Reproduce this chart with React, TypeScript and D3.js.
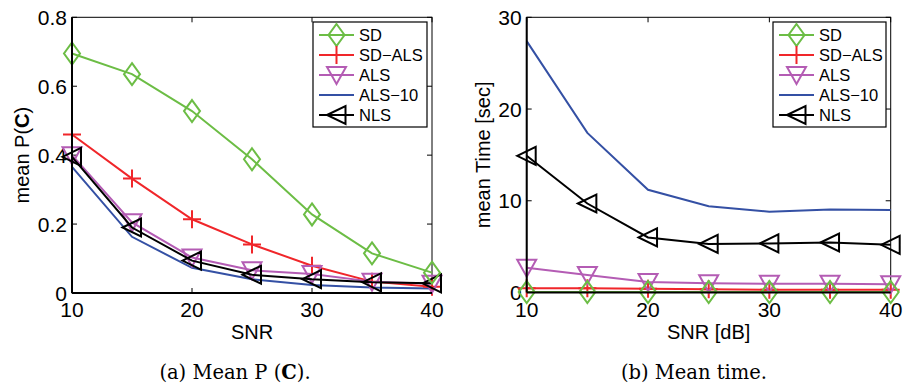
import React from "react";
import * as d3 from "d3";

const snr = [10, 15, 20, 25, 30, 35, 40];
const seriesNames = ["SD", "SD\u2212ALS", "ALS", "ALS\u221210", "NLS"];
const seriesColors = ["#6cbd45", "#f0262a", "#b45cb4", "#3450a4", "#000000"];
const seriesMarkers = ["diamond", "plus", "tridown", "none", "trileft"];

// (a) mean P(C)
const pcSD = [0.695, 0.635, 0.528, 0.388, 0.228, 0.115, 0.059];
const pcSDALS = [0.46, 0.332, 0.214, 0.141, 0.079, 0.033, 0.018];
const pcALS = [0.4, 0.205, 0.103, 0.066, 0.055, 0.033, 0.027];
const pcALS10 = [0.366, 0.163, 0.073, 0.04, 0.023, 0.016, 0.013];
const pcNLS = [0.395, 0.19, 0.094, 0.053, 0.04, 0.031, 0.028];

// (b) mean time
const tSD = [0.05, 0.05, 0.05, 0.05, 0.05, 0.05, 0.05];
const tSDALS = [0.45, 0.45, 0.4, 0.35, 0.3, 0.3, 0.3];
const tALS = [2.7, 1.9, 1.15, 1.0, 0.95, 0.95, 0.9];
const tALS10 = [27.4, 17.4, 11.2, 9.4, 8.8, 9.05, 9.0];
const tNLS = [14.9, 9.7, 6.0, 5.3, 5.35, 5.45, 5.2];

const xTicks = [10, 20, 30, 40];
const yTicksA = [0, 0.2, 0.4, 0.6, 0.8];
const yTicksAL = ["0", "0.2", "0.4", "0.6", "0.8"];
const yTicksB = [0, 10, 20, 30];

function markerPath(kind: string): string {
  switch (kind) {
    case "diamond":
      return "M0,-11L8,0L0,11L-8,0Z";
    case "plus":
      return "M-9,0L9,0M0,-9L0,9";
    case "tridown":
      return "M-9.5,-8L9.5,-8L0,9Z";
    case "trileft":
      return "M-9.5,0L9,-9L9,9Z";
    default:
      return "";
  }
}

type PanelProps = {
  left: number;
  right: number;
  top: number;
  bottom: number;
  yMax: number;
  yTicks: number[];
  yTickLabels: string[];
  data: number[][];
  yLabel: React.ReactNode;
  yLabelX: number;
  xLabel: string;
  caption: React.ReactNode;
  captionX: number;
  legendX: number;
  legendW: number;
};

function Panel(p: PanelProps) {
  const x = d3.scaleLinear().domain([10, 40]).range([p.left, p.right]);
  const y = d3.scaleLinear().domain([0, p.yMax]).range([p.bottom, p.top]);
  const line = d3
    .line<number>()
    .x((_, i) => x(snr[i]))
    .y((v) => y(v));
  const cx = (p.left + p.right) / 2;
  const tick = 5;
  const order = [3, 1, 2, 4, 0];
  return (
    <g>
      <rect x={p.left} y={p.top} width={p.right - p.left} height={p.bottom - p.top} fill="white" stroke="#000" strokeWidth={1} />
      {xTicks.map((t) => (
        <g key={"xt" + t}>
          <line x1={x(t)} x2={x(t)} y1={p.bottom} y2={p.bottom - tick} stroke="#000" />
          <line x1={x(t)} x2={x(t)} y1={p.top} y2={p.top + tick} stroke="#000" />
          <text x={x(t)} y={p.bottom + 24} textAnchor="middle" fontSize={21} fontFamily="Liberation Sans, Arial, sans-serif">
            {t}
          </text>
        </g>
      ))}
      {p.yTicks.map((t, i) => (
        <g key={"yt" + t}>
          <line x1={p.left} x2={p.left + tick} y1={y(t)} y2={y(t)} stroke="#000" />
          <line x1={p.right} x2={p.right - tick} y1={y(t)} y2={y(t)} stroke="#000" />
          <text x={p.left - 5} y={y(t) + 7.5} textAnchor="end" fontSize={21} fontFamily="Liberation Sans, Arial, sans-serif">
            {p.yTickLabels[i]}
          </text>
        </g>
      ))}
      {order.map((si) => (
        <g key={"s" + si}>
          <path d={line(p.data[si]) || ""} fill="none" stroke={seriesColors[si]} strokeWidth={2} />
          {seriesMarkers[si] !== "none" &&
            p.data[si].map((v, i) => (
              <path
                key={i}
                transform={`translate(${x(snr[i])},${y(v)})`}
                d={markerPath(seriesMarkers[si])}
                fill="none"
                stroke={seriesColors[si]}
                strokeWidth={2}
              />
            ))}
        </g>
      ))}
      <line x1={p.left} x2={p.left} y1={p.top} y2={p.bottom} stroke="#000" strokeWidth={2} />
      <line x1={p.left} x2={p.right} y1={p.bottom} y2={p.bottom} stroke="#000" strokeWidth={2} />
      <text x={cx} y={p.bottom + 46} textAnchor="middle" fontSize={20} fontFamily="Liberation Sans, Arial, sans-serif">
        {p.xLabel}
      </text>
      <text
        transform={`translate(${p.yLabelX},${(p.top + p.bottom) / 2}) rotate(-90)`}
        textAnchor="middle"
        fontSize={20}
        fontFamily="Liberation Sans, Arial, sans-serif"
      >
        {p.yLabel}
      </text>
      <text x={p.captionX} y={379} textAnchor="middle" fontSize={19.5} fontFamily="DejaVu Serif, serif">
        {p.caption}
      </text>
      <rect x={p.legendX} y={22} width={p.legendW} height={105} fill="white" stroke="#000" strokeWidth={1.2} />
      {seriesNames.map((n, i) => {
        const ly = 35 + i * 20;
        const lx0 = p.legendX + 6;
        const lx1 = p.legendX + 41;
        const mx = (lx0 + lx1) / 2;
        return (
          <g key={"lg" + i}>
            <line x1={lx0} x2={lx1} y1={ly} y2={ly} stroke={seriesColors[i]} strokeWidth={2} />
            {seriesMarkers[i] !== "none" && (
              <path transform={`translate(${mx},${ly})`} d={markerPath(seriesMarkers[i])} fill="none" stroke={seriesColors[i]} strokeWidth={2} />
            )}
            <text x={lx1 + 5} y={ly + 6} fontSize={16.5} fontFamily="Liberation Sans, Arial, sans-serif">
              {n}
            </text>
          </g>
        );
      })}
    </g>
  );
}

export default function App() {
  return (
    <svg width={903} height={390} style={{ position: "absolute", left: 0, top: 0, background: "white" }}>
      <rect x={0} y={0} width={903} height={390} fill="white" />
      <Panel
        left={72}
        right={432}
        top={17.3}
        bottom={293}
        yMax={0.8}
        yTicks={yTicksA}
        yTickLabels={yTicksAL}
        data={[pcSD, pcSDALS, pcALS, pcALS10, pcNLS]}
        yLabel={
          <>
            <tspan>mean P(</tspan>
            <tspan fontWeight="bold">C</tspan>
            <tspan>)</tspan>
          </>
        }
        yLabelX={29}
        xLabel="SNR"
        caption={
          <>
            <tspan>(a) Mean P (</tspan>
            <tspan fontWeight="bold">C</tspan>
            <tspan>).</tspan>
          </>
        }
        captionX={235}
        legendX={313}
        legendW={114}
      />
      <Panel
        left={526.7}
        right={890.7}
        top={17.3}
        bottom={292.5}
        yMax={30}
        yTicks={yTicksB}
        yTickLabels={yTicksB.map(String)}
        data={[tSD, tSDALS, tALS, tALS10, tNLS]}
        yLabel="mean Time [sec]"
        yLabelX={490}
        xLabel="SNR [dB]"
        caption="(b) Mean time."
        captionX={694}
        legendX={773}
        legendW={113}
      />
    </svg>
  );
}
